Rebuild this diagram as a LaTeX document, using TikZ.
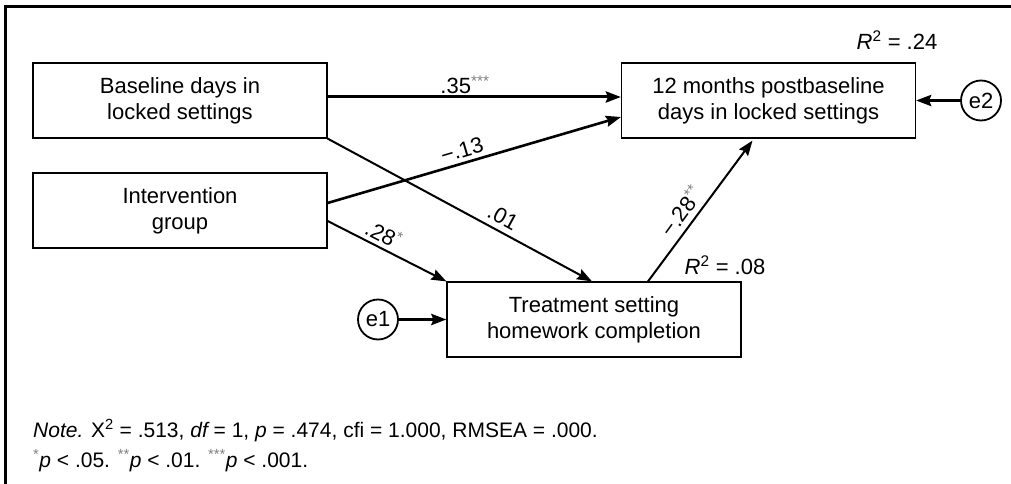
\documentclass[tikz,border=0pt]{standalone}
\usepackage{fontspec}
\setmainfont{Liberation Sans}
\usetikzlibrary{arrows.meta}
\definecolor{starcol}{gray}{0.5}
\newcommand{\sigstars}[1]{\textsuperscript{\color{starcol}#1}}
\begin{document}
\begin{tikzpicture}[x=1pt,y=-1pt,
  box/.style={draw, line width=1.2pt, minimum width=294pt, minimum height=75pt, align=center, inner sep=0pt, font=\fontsize{22}{26}\selectfont},
  err/.style={draw, circle, line width=1.8pt, minimum size=40pt, inner sep=0pt, font=\fontsize{22}{26}\selectfont},
  conn/.style={line width=2pt, -{Stealth[length=15pt,width=11pt,inset=2pt]}},
  thickconn/.style={conn, line width=3pt},
  coef/.style={inner sep=0pt, font=\fontsize{22}{26}\selectfont},
  notetext/.style={inner sep=0pt, anchor=base west, font=\fontsize{21}{25}\selectfont}
]
\useasboundingbox (0,0) rectangle (1011,484);
\draw[line width=3pt, line join=miter] (5.3,484) -- (5.3,7) -- (1011,7);

\node[box] (A) at (180,100.5) {Baseline days in\\locked settings};
\node[box] (B) at (180,210.5) {Intervention\\group};
\node[box] (C) at (768.5,100.5) {12 months postbaseline\\days in locked settings};
\node[box] (D) at (594,319.5) {Treatment setting\\homework completion};
\node[err] (e1) at (378,319.5) {e1};
\node[err] (e2) at (981,100.5) {e2};

\draw[thickconn] ([yshift=3.5pt]A.east) -- ([yshift=3.5pt]C.west);
\draw[conn, line width=2.6pt] ([yshift=7.5pt]B.east) -- ([yshift=-16.5pt]C.west);
\draw[conn] (A.south east) -- ([xshift=-2pt]D.north);
\draw[conn] ([yshift=-10.5pt]B.east) -- (D.north west);
\draw[conn] ([xshift=54pt]D.north) -- ([xshift=-16pt,yshift=-2pt]C.south);
\draw[thickconn] (e1) -- (D.west);
\draw[thickconn] (e2) -- (C.east);

\node[coef] (l35) at (465,85) {.35\sigstars{***}};
\node[coef, rotate=16.3] (l13) at (462,150) {−.13};
\node[coef, rotate=-28.5] (l01) at (503,217) {.01};
\node[coef, rotate=-27] (l28) at (384,234) {.28\sigstars{*}};
\node[coef, rotate=53.8] (l28b) at (681,211) {−.28\sigstars{**}};

\node[coef] (r24) at (897,40) {\itshape R\upshape\textsuperscript{2} = .24};
\node[coef] (r08) at (725,265) {\itshape R\upshape\textsuperscript{2} = .08};

\node[notetext] (n1) at (33,437) {\itshape Note.\upshape{} X\textsuperscript{2} = .513, \itshape df\upshape{} = 1, \itshape p\upshape{} = .474, cfi = 1.000, RMSEA = .000.};
\node[notetext] (n2) at (33,467) {\sigstars{*}\itshape p\upshape{} < .05. \sigstars{**}\itshape p\upshape{} < .01. \sigstars{***}\itshape p\upshape{} < .001.};
\end{tikzpicture}
\end{document}
